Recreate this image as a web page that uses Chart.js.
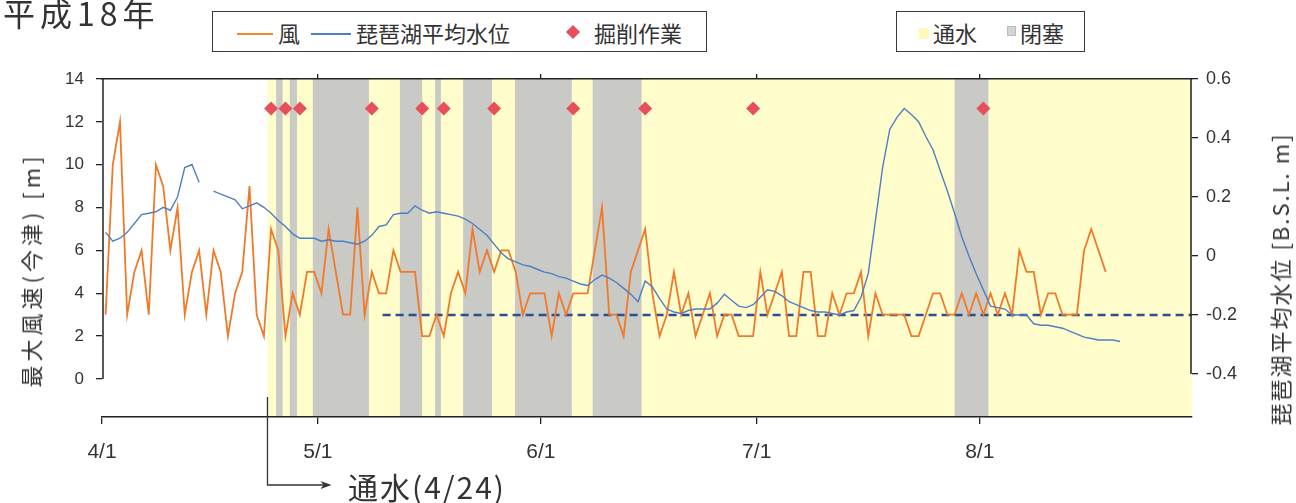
<!DOCTYPE html>
<html lang="ja">
<head>
<meta charset="utf-8">
<title>平成18年 最大風速と琵琶湖平均水位</title>
<script src="https://cdn.jsdelivr.net/npm/chart.js@4.4.1/dist/chart.umd.min.js"></script>
<style>
  html, body { margin: 0; padding: 0; background: #fff; }
  #wrap { position: relative; width: 1296px; height: 503px; overflow: hidden; }
  #c { position: absolute; left: 0; top: 0; }
  .t { position: absolute; font-family: "Noto Sans CJK JP", "Noto Sans", sans-serif; color: #333; white-space: nowrap; line-height: 1; }
  .box { position: absolute; border: 1.5px solid #3a3a3a; background: #fff; }
  .sw { position: absolute; }
</style>
</head>
<body>
<div id="wrap">
  <canvas id="c" width="1296" height="503"></canvas>

  <div class="t" style="left:3px;top:-4px;font-size:32px;letter-spacing:5px;">平成18年</div>

  <div class="box" style="left:212px;top:11px;width:493px;height:39px;"></div>
  <div class="sw" style="left:237px;top:33px;width:36px;height:2px;background:#F2862E;"></div>
  <div class="t" style="left:278px;top:21px;font-size:22px;">風</div>
  <div class="sw" style="left:311px;top:33px;width:40px;height:2px;background:#4D7FC2;"></div>
  <div class="t" style="left:356px;top:21px;font-size:22px;">琵琶湖平均水位</div>
  <div class="sw" style="left:568px;top:27px;width:10px;height:10px;background:#E5505C;transform:rotate(45deg);"></div>
  <div class="t" style="left:594px;top:21px;font-size:22px;">掘削作業</div>

  <div class="box" style="left:896px;top:11px;width:187px;height:39px;"></div>
  <div class="sw" style="left:919px;top:28px;width:10px;height:11px;background:#FFF9B8;"></div>
  <div class="t" style="left:933px;top:21px;font-size:22px;">通水</div>
  <div class="sw" style="left:1007px;top:26px;width:7px;height:8px;background:#D4D4D4;border:1px solid #bbb;"></div>
  <div class="t" style="left:1020px;top:21px;font-size:22px;">閉塞</div>

  <div class="t" style="left:30px;top:270px;font-size:22px;letter-spacing:4px;transform:translate(-50%,-50%) rotate(-90deg);">最大風速(今津) [m]</div>
  <div class="t" style="left:1279px;top:279px;font-size:22px;letter-spacing:2px;transform:translate(-50%,-50%) rotate(-90deg);">琵琶湖平均水位 [B.S.L. m]</div>

  <div class="t" style="left:348px;top:471px;font-size:30px;letter-spacing:2px;">通水(4/24)</div>
</div>

<script>
// Day axis: 0 = 4/1 (平成18年). Daily values are plotted at the middle of each day.
const tickDays = [0, 30, 61, 91, 122];
const tickLabels = ['4/1', '5/1', '6/1', '7/1', '8/1'];
const windTicks = [0, 2, 4, 6, 8, 10, 12, 14];
const levelTicks = [-0.4, -0.2, 0, 0.2, 0.4, 0.6];

// 最大風速(今津) [m], daily from 4/1
const wind = [
  3, 10, 12, 3, 5, 6, 3, 10, 9, 6,
  8, 3, 5, 6, 3, 6, 5, 2, 4, 5,
  9, 3, 2, 7, 6, 2, 4, 3, 5, 5,
  4, 7, 5, 3, 3, 8, 3, 5, 4, 4,
  6, 5, 5, 5, 2, 2, 3, 2, 4, 5,
  4, 7, 5, 6, 5, 6, 6, 5, 3, 4,
  4, 4, 2, 4, 3, 4, 4, 4, 6, 8,
  3, 3, 2, 5, 6, 7, 4, 2, 3, 5,
  3, 4, 2, 3, 4, 2, 3, 3, 2, 2,
  2, 5, 3, 4, 5, 2, 2, 5, 5, 2,
  2, 4, 3, 4, 4, 5, 2, 4, 3, 3,
  3, 3, 2, 2, 3, 4, 4, 3, 3, 4,
  3, 4, 3, 4, 3, 4, 3, 6, 5, 5,
  3, 4, 4, 3, 3, 3, 6, 7, 6, 5
];

// 琵琶湖平均水位 [B.S.L. m], daily from 4/1 (null = no record)
const lakeLevel = [
  0.08, 0.05, 0.06, 0.08, 0.11, 0.14, 0.145, 0.15, 0.165, 0.155,
  0.2, 0.3, 0.31, 0.25, null, 0.22, 0.21, 0.2, 0.19, 0.16,
  0.17, 0.18, 0.165, 0.145, 0.12, 0.1, 0.075, 0.06, 0.06, 0.06,
  0.05, 0.055, 0.05, 0.05, 0.045, 0.04, 0.05, 0.07, 0.1, 0.105,
  0.14, 0.145, 0.145, 0.17, 0.155, 0.145, 0.15, 0.145, 0.14, 0.135,
  0.125, 0.11, 0.09, 0.07, 0.04, 0.01, -0.01, -0.02, -0.03, -0.035,
  -0.045, -0.055, -0.06, -0.07, -0.075, -0.085, -0.095, -0.1, -0.08, -0.065,
  -0.075, -0.09, -0.11, -0.13, -0.155, -0.085, -0.105, -0.145, -0.18, -0.19,
  -0.195, -0.185, -0.18, -0.18, -0.18, -0.16, -0.13, -0.15, -0.17, -0.175,
  -0.165, -0.14, -0.115, -0.12, -0.135, -0.155, -0.165, -0.175, -0.185, -0.19,
  -0.19, -0.195, -0.2, -0.19, -0.185, -0.14, -0.06, 0.12, 0.3, 0.43,
  0.47, 0.5, 0.48, 0.455, 0.405, 0.36, 0.29, 0.22, 0.145, 0.065,
  0, -0.06, -0.115, -0.17, -0.175, -0.18, -0.2, -0.2, -0.2, -0.23,
  -0.235, -0.235, -0.24, -0.245, -0.255, -0.265, -0.275, -0.28, -0.285, -0.285,
  -0.285, -0.29
];

// 掘削作業 days, marked along the 0.5 m line of the level axis
const digDays = [23, 25, 27, 37, 44, 47, 54, 65, 75, 90, 122];
const digMarkLevel = 0.5;

// 通水 from 4/24; 閉塞 periods (start/end, in days from 4/1)
const flowStart = 23;
const closedStart = [24.2, 26.1, 29.3, 41.4, 46.3, 50.2, 57.4, 68.2, 118.5];
const closedEnd   = [25.1, 27.1, 37.1, 44.5, 47.1, 54.2, 65.3, 75.0, 123.2];

// reference level drawn as a dashed line
const refLevel = -0.2;
const refStart = 39;
const dayEnd = 151.5;

const mid = i => i + 0.5;
const numFont = { family: '"Liberation Sans", Arial, sans-serif' };

const periodsPlugin = {
  id: 'periods',
  beforeDraw(chart) {
    const { ctx, chartArea: a, scales: { x } } = chart;
    ctx.save();
    ctx.fillStyle = '#FFFDCB';
    const x0 = x.getPixelForValue(flowStart);
    ctx.fillRect(x0, a.top, a.right - x0, a.bottom - a.top);
    ctx.fillStyle = '#C9C9C6';
    closedStart.forEach((s, k) => {
      const p0 = x.getPixelForValue(s);
      const p1 = x.getPixelForValue(closedEnd[k]);
      ctx.fillRect(p0, a.top, p1 - p0, a.bottom - a.top);
    });
    ctx.restore();
  },
  afterDatasetsDraw(chart) {
    const { ctx, chartArea: a, scales: { x, y, y2 } } = chart;
    ctx.save();
    // value axes only span their labelled range
    ctx.strokeStyle = '#222';
    ctx.lineWidth = 1.5;
    ctx.beginPath();
    ctx.moveTo(a.left + 1, y.getPixelForValue(windTicks[windTicks.length - 1]));
    ctx.lineTo(a.left + 1, y.getPixelForValue(windTicks[0]));
    ctx.moveTo(a.right - 1, y2.getPixelForValue(levelTicks[levelTicks.length - 1]));
    ctx.lineTo(a.right - 1, y2.getPixelForValue(levelTicks[0]));
    ctx.stroke();
    // 通水 pointer
    const xs = x.getPixelForValue(flowStart);
    const yArrow = a.bottom + 68;
    ctx.lineWidth = 1.3;
    ctx.strokeStyle = '#333';
    ctx.beginPath();
    ctx.moveTo(xs, a.bottom - 20);
    ctx.lineTo(xs, yArrow);
    ctx.lineTo(xs + 56, yArrow);
    ctx.stroke();
    ctx.fillStyle = '#333';
    ctx.beginPath();
    ctx.moveTo(xs + 64, yArrow);
    ctx.lineTo(xs + 53, yArrow - 4);
    ctx.lineTo(xs + 56, yArrow);
    ctx.lineTo(xs + 53, yArrow + 4);
    ctx.closePath();
    ctx.fill();
    ctx.restore();
  }
};

new Chart(document.getElementById('c'), {
  type: 'line',
  data: {
    datasets: [
      {
        label: '掘削作業',
        data: digDays.map(d => ({ x: mid(d), y: digMarkLevel })),
        yAxisID: 'y2',
        showLine: false,
        pointStyle: 'rectRot',
        pointRadius: 7,
        pointBackgroundColor: '#E5505C',
        pointBorderWidth: 0,
        order: 0
      },
      {
        label: '風',
        data: wind.map((v, i) => ({ x: mid(i), y: v })),
        yAxisID: 'y',
        borderColor: '#F07A2A',
        borderWidth: 1.8,
        pointRadius: 0,
        tension: 0,
        order: 2
      },
      {
        label: '琵琶湖平均水位',
        data: lakeLevel.map((v, i) => ({ x: mid(i), y: v })),
        yAxisID: 'y2',
        borderColor: '#4D7FC2',
        borderWidth: 1.4,
        pointRadius: 0,
        tension: 0,
        spanGaps: false,
        order: 1
      },
      {
        label: '基準',
        data: [{ x: refStart, y: refLevel }, { x: dayEnd, y: refLevel }],
        yAxisID: 'y2',
        borderColor: '#2E4E92',
        borderWidth: 2.4,
        borderDash: [8, 5],
        pointRadius: 0,
        order: 3
      }
    ]
  },
  options: {
    responsive: false,
    animation: false,
    devicePixelRatio: 1,
    layout: { padding: 0 },
    plugins: { legend: { display: false }, tooltip: { enabled: false }, title: { display: false } },
    scales: {
      x: {
        type: 'linear', position: 'bottom', min: 0, max: dayEnd,
        afterBuildTicks: s => { s.ticks = tickDays.map(v => ({ value: v })); },
        afterFit: s => { s.height = 86; },
        ticks: {
          autoSkip: false, maxRotation: 0, padding: 16, color: '#333',
          font: { ...numFont, size: 21 },
          callback: v => tickLabels[tickDays.indexOf(v)]
        },
        grid: { drawOnChartArea: false, tickLength: 7, color: '#222', lineWidth: 1.3 },
        border: { color: '#222', width: 1.5 }
      },
      x2: {
        type: 'linear', position: 'top', min: 0, max: dayEnd,
        afterBuildTicks: s => { s.ticks = tickDays.slice(1).map(v => ({ value: v })); },
        afterFit: s => { s.height = 79; },
        ticks: { display: false },
        grid: { drawOnChartArea: false, tickLength: 5, color: '#222', lineWidth: 1.3 },
        border: { color: '#222', width: 1.5 }
      },
      y: {
        position: 'left', min: -1.773, max: 14,
        afterBuildTicks: s => { s.ticks = windTicks.map(v => ({ value: v })); },
        afterFit: s => { s.width = 102; },
        ticks: { padding: 12, color: '#333', font: { ...numFont, size: 17 } },
        grid: { drawOnChartArea: false, tickLength: 6, color: '#222', lineWidth: 1.3 },
        border: { display: false }
      },
      y2: {
        position: 'right', min: -0.546, max: 0.6,
        afterBuildTicks: s => { s.ticks = levelTicks.map(v => ({ value: v })); },
        afterFit: s => { s.width = 104; },
        ticks: {
          padding: 8, color: '#333', font: { ...numFont, size: 18 },
          callback: v => String(Math.round(v * 10) / 10)
        },
        grid: { drawOnChartArea: false, tickLength: 6, color: '#222', lineWidth: 1.3 },
        border: { display: false }
      }
    }
  },
  plugins: [periodsPlugin]
});
</script>
</body>
</html>
